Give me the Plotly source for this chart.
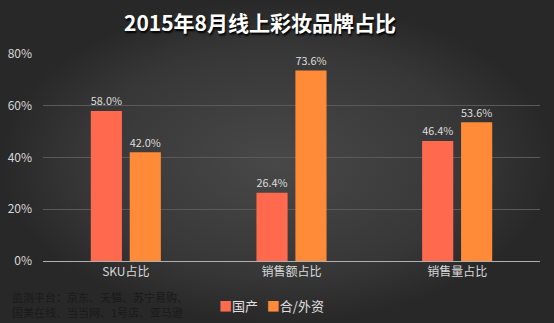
import plotly.graph_objects as go

categories = ["SKU占比", "销售额占比", "销售量占比"]
domestic = [58.0, 26.4, 46.4]
foreign = [42.0, 73.6, 53.6]
series_names = ["国产", "合/外资"]
series_colors = ["#FF6A4E", "#FF8A37"]
tick_vals = [0, 20, 40, 60, 80]
tick_text = ["0%", "20%", "40%", "60%", "80%"]
note_lines = ["监测平台：京东、天猫、苏宁易购、", "国美在线、当当网、1号店、亚马逊"]

W, H = 554, 323
fig = go.Figure()

# background radial gradient on a full-page helper axis
fig.add_trace(go.Scatter(
    x=[0, 1, 1, 0, 0], y=[0, 0, 1, 1, 0], mode="lines", fill="toself",
    line=dict(width=0), fillgradient=dict(type="radial",
        colorscale=[[0, "#484848"], [0.7, "#373737"], [1, "#282828"]]),
    hoverinfo="skip", showlegend=False, xaxis="x", yaxis="y"))

for vals, name, col in [(domestic, series_names[0], series_colors[0]),
                        (foreign, series_names[1], series_colors[1])]:
    fig.add_trace(go.Bar(x=categories, y=vals, name=name,
        marker=dict(color=col, line=dict(width=0)),
        texttemplate="%{y:.1f}%", textposition="outside", cliponaxis=False,
        textfont=dict(color="#dedede", size=12), xaxis="x2", yaxis="y2",
        showlegend=False))

font = "Noto Sans CJK SC, Noto Sans, sans-serif"
fig.update_layout(
    width=W, height=H, margin=dict(l=0, r=0, t=0, b=0),
    paper_bgcolor="#2e2e2e", plot_bgcolor="rgba(0,0,0,0)",
    font=dict(family=font, color="#d9d9d9", size=12),
    barmode="group", bargap=0.53, bargroupgap=0.2,
    xaxis=dict(domain=[0, 1], range=[0, 1], visible=False, fixedrange=True),
    yaxis=dict(domain=[0, 1], range=[0, 1], visible=False, fixedrange=True),
    xaxis2=dict(domain=[43 / W, 540 / W], anchor="y2", showgrid=False,
                showline=True, linecolor="#b0b0b0", linewidth=1, ticks="",
                tickfont=dict(size=12, color="#d9d9d9"), automargin=False),
    yaxis2=dict(domain=[(H - 261) / H, (H - 54) / H], anchor="x2", range=[0, 80],
                tickmode="array", tickvals=tick_vals, ticktext=tick_text,
                showgrid=True, gridcolor="#5a5a5a", gridwidth=1, zeroline=False,
                ticks="", ticklabelstandoff=10,
                tickfont=dict(size=12, color="#d9d9d9"), automargin=False),
    showlegend=False,
)

fig.add_annotation(text="<b>2015年8月线上彩妆品牌占比</b>", xref="paper", yref="paper",
    x=260 / W, y=(H - 22) / H, xanchor="center", yanchor="middle", showarrow=False,
    font=dict(size=21, color="#ffffff", family="Noto Sans CJK SC, serif",
              shadow="1px 2px 2px #000000"))
for i, line in enumerate(note_lines):
    fig.add_annotation(text=line, xref="paper", yref="paper",
        x=10 / W, y=(H - (297 + 15 * i)) / H, xanchor="left",
        yanchor="middle", align="left", showarrow=False,
        font=dict(size=11, color="#1a1a1a"))
legend_text = "&nbsp;&nbsp;&nbsp;".join(
    f"<span style='color:{c}'>■</span>{n}" for n, c in zip(series_names, series_colors))
fig.add_annotation(text=legend_text, xref="paper", yref="paper",
    x=217 / W, y=(H - 305) / H, xanchor="left", yanchor="middle",
    showarrow=False, font=dict(size=13, color="#e0e0e0"))

fig.write_html("out.html")
